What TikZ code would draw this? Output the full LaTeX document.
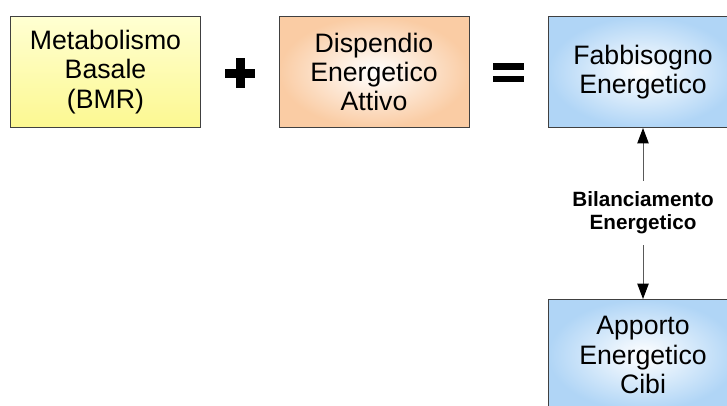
\documentclass[tikz,border=0pt]{standalone}
\usepackage{fontspec}
\setmainfont{Liberation Sans}
\usetikzlibrary{arrows.meta}

\definecolor{giallochiaro}{RGB}{255,255,210}
\definecolor{giallo}{RGB}{252,248,145}
\definecolor{pesca}{RGB}{250,204,164}
\definecolor{azzurro}{RGB}{176,213,246}

\tikzset{
  blocco/.style={draw=black!75, line width=0.75pt, minimum width=142.5pt,
    minimum height=83.25pt, inner sep=0pt, align=center,
    font=\fontsize{20}{22}\selectfont},
  bmr/.style={blocco, top color=giallochiaro, bottom color=giallo},
  attivo/.style={blocco, inner color=white, outer color=pesca},
  energia/.style={blocco, inner color=white, outer color=azzurro},
  freccia/.style={draw=black!65, line width=0.75pt,
    -{Triangle[width=8.5pt,length=11.5pt,color=black]}},
}

\begin{document}
\begin{tikzpicture}[x=0.75pt, y=-0.75pt]
  \clip (0,0) rectangle (727,405);
  % riga in alto: BMR + attivo = fabbisogno
  \node[bmr] (B) at (105.5,72) {Metabolismo\\Basale\\(BMR)};
  \node[attivo] (D) at (374,72) {Dispendio\\Energetico\\Attivo};
  \node[energia] (F) at (643,72) {Fabbisogno\\Energetico};
  % segni + e =
  \fill (225,69) rectangle (255,78);
  \fill (235.5,58) rectangle (244.5,88);
  \fill (493,63) rectangle (524,69.5);
  \fill (493,75.5) rectangle (524,82);
  % bilancio tra fabbisogno e apporto
  \node[energia] (A) at (643,355) {Apporto\\Energetico\\Cibi};
  \node[align=center, inner xsep=0pt, inner ysep=8pt,
    font=\fontsize{15.5}{17.5}\selectfont\bfseries] (Bil) at (643,213)
    {Bilanciamento\\Energetico};
  \draw[freccia] (Bil) -- (F);
  \draw[freccia] (Bil) -- (A);
\end{tikzpicture}
\end{document}
